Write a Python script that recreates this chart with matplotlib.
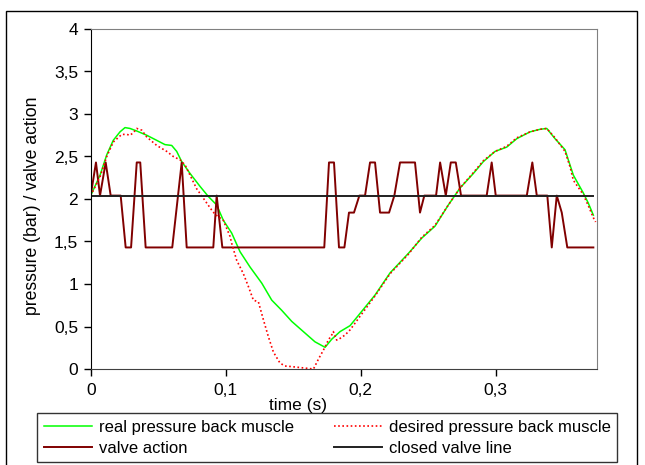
import matplotlib
matplotlib.use("Agg")
import matplotlib.pyplot as plt
from matplotlib.ticker import FuncFormatter
from matplotlib.patches import Rectangle

plt.rcParams['font.family'] = ['Liberation Sans', 'DejaVu Sans']

# real pressure back muscle (green)
t_real = [0.0, 0.0069, 0.0119, 0.0167, 0.0217, 0.0254, 0.0291, 0.0341, 0.0415, 0.0489,
          0.0550, 0.0600, 0.0637, 0.0674, 0.0736, 0.0809, 0.0871, 0.0933, 0.0982, 0.1044,
          0.1106, 0.1180, 0.1267, 0.1341, 0.1415, 0.1489, 0.1575, 0.1661, 0.1736, 0.1785,
          0.1847, 0.1921, 0.2106, 0.2217, 0.2353, 0.2452, 0.2550, 0.2649, 0.2736, 0.2834,
          0.2908, 0.2995, 0.3081, 0.3156, 0.3254, 0.3328, 0.3378, 0.3439, 0.3513, 0.3550,
          0.3575, 0.3649, 0.3686, 0.3723]
p_real = [2.04, 2.28, 2.52, 2.69, 2.79, 2.84, 2.83, 2.80, 2.75, 2.69,
          2.64, 2.63, 2.56, 2.44, 2.30, 2.15, 2.03, 1.93, 1.75, 1.60,
          1.38, 1.20, 1.01, 0.81, 0.69, 0.56, 0.44, 0.32, 0.255, 0.35,
          0.44, 0.51, 0.87, 1.13, 1.36, 1.54, 1.68, 1.93, 2.13, 2.30,
          2.44, 2.56, 2.61, 2.71, 2.79, 2.82, 2.83, 2.71, 2.58, 2.40,
          2.28, 2.07, 1.95, 1.81]

# desired pressure back muscle (red dotted)
t_des = [0.0, 0.0069, 0.0119, 0.0167, 0.0230, 0.0267, 0.0291, 0.0316, 0.0341, 0.0378,
         0.0415, 0.0489, 0.0563, 0.0612, 0.0662, 0.0699, 0.0785, 0.0896, 0.0921, 0.0982,
         0.1032, 0.1044, 0.1081, 0.1131, 0.1168, 0.1205, 0.1242, 0.1279, 0.1316, 0.1353,
         0.1402, 0.1439, 0.1476, 0.1650, 0.1688, 0.1723, 0.1760, 0.1785, 0.1797, 0.1822,
         0.1847, 0.1884, 0.1921, 0.2106, 0.2217, 0.2353, 0.2452, 0.2550, 0.2649, 0.2736,
         0.2834, 0.2908, 0.2995, 0.3081, 0.3156, 0.3254, 0.3328, 0.3378, 0.3439, 0.3513,
         0.3550, 0.3575, 0.3649, 0.3686, 0.3723, 0.3740]
p_des = [2.04, 2.26, 2.50, 2.67, 2.76, 2.76, 2.75, 2.78, 2.83, 2.81,
         2.73, 2.63, 2.56, 2.50, 2.46, 2.40, 2.12, 1.87, 1.82, 1.75,
         1.56, 1.48, 1.28, 1.12, 0.97, 0.81, 0.79, 0.58, 0.38, 0.20,
         0.07, 0.035, 0.03, 0.0, 0.12, 0.22, 0.34, 0.40, 0.44, 0.34,
         0.36, 0.40, 0.46, 0.86, 1.12, 1.35, 1.55, 1.69, 1.93, 2.13,
         2.31, 2.45, 2.56, 2.62, 2.72, 2.79, 2.82, 2.83, 2.72, 2.56,
         2.38, 2.22, 2.05, 1.92, 1.78, 1.73]

# valve action (maroon)
t_valve = [0.0, 0.0039, 0.0069, 0.0111, 0.0148, 0.0222, 0.0259, 0.0299, 0.0341, 0.0367,
           0.0407, 0.0604, 0.0674, 0.0711, 0.0908, 0.0933, 0.0975, 0.1730, 0.1765, 0.1802,
           0.1839, 0.1879, 0.1913, 0.1950, 0.1990, 0.2032, 0.2069, 0.2106, 0.2143, 0.2210,
           0.2249, 0.2291, 0.2402, 0.2439, 0.2471, 0.2558, 0.2588, 0.2630, 0.2667, 0.2704,
           0.2743, 0.2933, 0.2970, 0.3000, 0.3230, 0.3271, 0.3304, 0.3382, 0.3415, 0.3452,
           0.3489, 0.3530, 0.3723]
v_valve = [2.04, 2.43, 2.04, 2.43, 2.04, 2.04, 1.43, 1.43, 2.43, 2.43,
           1.43, 1.43, 2.43, 1.43, 1.43, 2.04, 1.43, 1.43, 2.43, 2.43,
           1.43, 1.43, 1.84, 1.84, 2.04, 2.04, 2.43, 2.43, 1.84, 1.84,
           2.04, 2.43, 2.43, 1.84, 2.04, 2.04, 2.43, 2.04, 2.43, 2.43,
           2.04, 2.04, 2.43, 2.04, 2.04, 2.43, 2.04, 2.04, 1.43, 2.04,
           1.84, 1.43, 1.43]

closed_level = 2.04
t_closed = [0.0, 0.3723]

fig = plt.figure(figsize=(6.45, 4.65), dpi=100)
ax = fig.add_axes([90.7 / 645, 1 - 369 / 465, (597 - 90.7) / 645, (369 - 29) / 465])

l_real, = ax.plot(t_real, p_real, color='#00ff00', lw=1.1, label='real pressure back muscle')
l_valve, = ax.plot(t_valve, v_valve, color='#800000', lw=1.4, label='valve action')
l_des, = ax.plot(t_des, p_des, color='#ff0000', lw=1.2, ls=(0, (1, 1.5)),
                 label='desired pressure back muscle')
l_closed, = ax.plot(t_closed, [closed_level] * 2, color='#202020', lw=1.4,
                    label='closed valve line')

ax.set_xlim(0, 0.375)
ax.set_ylim(0, 4)
ax.set_xticks([0, 0.1, 0.2, 0.3])
ax.set_yticks([i * 0.5 for i in range(9)])
fmt = FuncFormatter(lambda v, p: ('%g' % round(v, 3)).replace('.', ','))
ax.xaxis.set_major_formatter(fmt)
ax.yaxis.set_major_formatter(fmt)
ax.tick_params(axis='both', labelsize=12.5, length=5, width=1, direction='out', color='black')
ax.tick_params(axis='x', pad=5)
ax.tick_params(axis='y', pad=4)

for s in ['top', 'right']:
    ax.spines[s].set_color('#808080')
ax.spines['left'].set_color('black')
ax.spines['bottom'].set_color('#404040')

ax.set_ylabel('pressure (bar) / valve action', fontsize=12.7)
ax.yaxis.set_label_coords((41 - 90.7) / 506.3, 0.481)
ax.set_xlabel('time (s)', fontsize=12.5)
ax.xaxis.set_label_coords((298 - 90.7) / 506.3, (369 - 398) / 340)

leg = fig.legend(handles=[l_real, l_valve, l_des, l_closed], ncol=2,
                 loc='upper left', bbox_to_anchor=(37 / 645, 1 - 413 / 465),
                 fontsize=12, fancybox=False, frameon=True,
                 handlelength=2.9, handletextpad=0.4, borderpad=0.4, labelspacing=0.36,
                 columnspacing=2.4, borderaxespad=0)
leg.get_frame().set_edgecolor('black')
leg.get_frame().set_linewidth(1.0)

fig.patches.append(Rectangle((6 / 645, -0.05), (637 - 6) / 645, 1.05 - 11 / 465,
                             transform=fig.transFigure, fill=False, edgecolor='black', lw=1.0))

fig.savefig('out.png', dpi=100)
